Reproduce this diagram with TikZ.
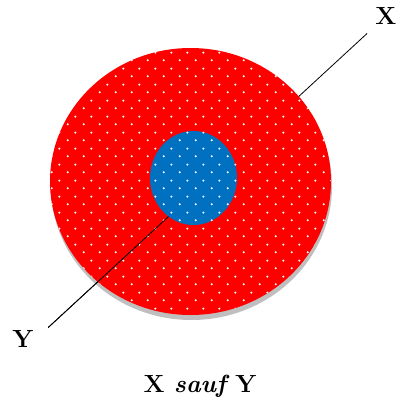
\documentclass[tikz,border=0pt]{standalone}
\usetikzlibrary{shapes.geometric,shadows,patterns}
\definecolor{diskred}{HTML}{FF0000}
\definecolor{diskblue}{HTML}{0070C0}
\pgfdeclarepatternformonly{whitedots}{\pgfqpoint{0bp}{0bp}}{\pgfqpoint{16bp}{16bp}}{\pgfqpoint{16bp}{16bp}}{%
  \pgfpathcircle{\pgfqpoint{4bp}{4bp}}{1.2bp}%
  \pgfpathcircle{\pgfqpoint{12bp}{12bp}}{1.2bp}%
  \pgfusepath{fill}}
\begin{document}
\begin{tikzpicture}[x=1bp, y=-1bp,
  lab/.style={font=\Huge\bfseries, inner sep=2bp},
  wire/.style={line width=0.8pt, shorten <=10bp, shorten >=17bp},
  outerdisk/.style={ellipse, minimum width=281bp, minimum height=267bp, inner sep=0pt,
    drop shadow={shadow xshift=1bp, shadow yshift=-5bp, opacity=.25, fill=black},
    preaction={fill=diskred}, pattern=whitedots, pattern color=white},
  innerdisk/.style={ellipse, minimum width=87bp, minimum height=94bp, inner sep=0pt,
    preaction={fill=diskblue}, pattern=whitedots, pattern color=white}]
\useasboundingbox (0,0) rectangle (396,400);
% Labels
\node[lab] (labX) at (386,16) {X};
\node[lab] (labY) at (23,339) {Y};
\node[lab, anchor=base] (caption) at (200,392) {X \textit{sauf\nocorr} Y};
\coordinate (mid) at (193.5,178);

% Line behind the red disk
\draw[wire] (labX) -- (labY.east);

% Red disk X
\node[outerdisk] (setX) at (190.5,181.5) {};

% Same line again over the red disk, lower left part only
\begin{scope}
\clip (mid) rectangle (0,400);
\draw[wire] (labX) -- (labY.east);
\end{scope}

% Blue disk Y
\node[innerdisk] (setY) at (mid) {};
\end{tikzpicture}
\end{document}
